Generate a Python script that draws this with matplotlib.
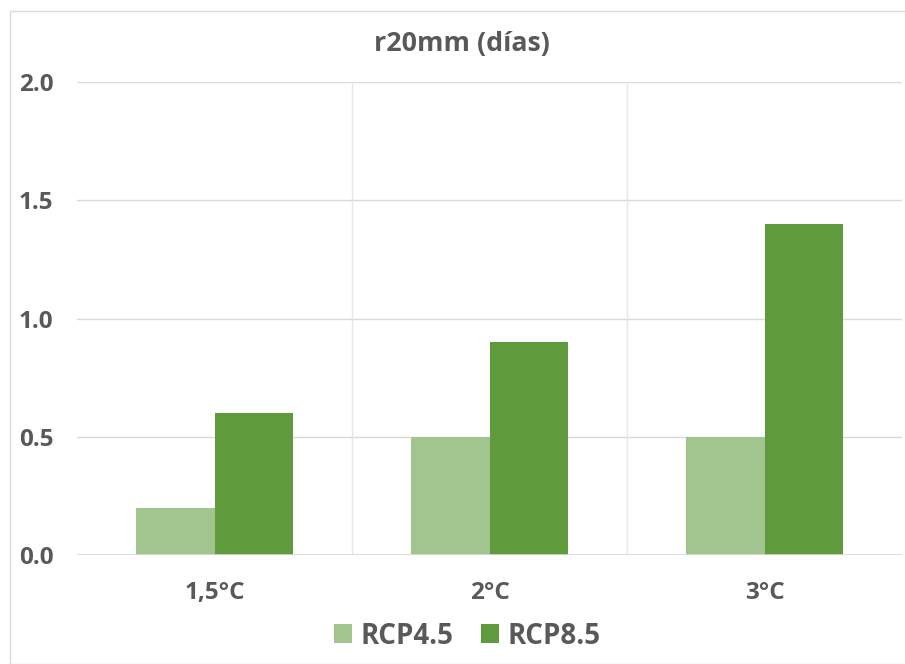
import matplotlib
matplotlib.use("Agg")
import matplotlib.pyplot as plt
import numpy as np
from matplotlib.patches import Rectangle

categories = ["1,5°C", "2°C", "3°C"]
rcp45 = [0.2, 0.5, 0.5]
rcp85 = [0.6, 0.9, 1.4]
series_labels = ["RCP4.5", "RCP8.5"]
yticks = [0.0, 0.5, 1.0, 1.5, 2.0]
title = "r20mm (días)"

plt.rcParams['font.family'] = ['Open Sans', 'DejaVu Sans']
txt = '#595959'

fig = plt.figure(figsize=(9.05, 6.64), dpi=100)
ax = fig.add_axes([77/905, 1-555/664, (902-77)/905, (555-82)/664])

x = np.arange(len(categories))
w = 0.284
b1 = ax.bar(x - w/2, rcp45, w, color='#a2c48e', label=series_labels[0], zorder=3)
b2 = ax.bar(x + w/2, rcp85, w, color='#5f9a3d', label=series_labels[1], zorder=3)

ax.set_xlim(-0.5, len(categories) - 0.5)
ax.set_ylim(0, 2.0)
ax.set_yticks(yticks)
ax.set_yticklabels([f"{v:.1f}" for v in yticks], fontsize=17.5, fontweight='bold', color=txt)
ax.set_xticks(x)
ax.set_xticklabels(categories, fontsize=17.5, fontweight='bold', color=txt)
ax.tick_params(axis='both', length=0)
ax.tick_params(axis='y', pad=17)
ax.tick_params(axis='x', pad=19)
for yv in yticks:
    ax.axhline(yv, color='#d9d9d9', lw=1, zorder=1)
for xv in np.arange(0.5, len(categories) - 0.5, 1):
    ax.axvline(xv, color='#e6e6e6', lw=1, zorder=1)
for s in ax.spines.values():
    s.set_visible(False)
ax.axhline(0, color='#d9d9d9', lw=1.2, zorder=4)

fig.text(462/905, 1-44/664, title, ha='center', va='center', fontsize=19.3, fontweight='bold', color=txt)

leg = fig.legend(handles=[b1, b2], labels=series_labels, loc='center', bbox_to_anchor=(467/905, 1-636/664),
                 ncol=2, frameon=False, fontsize=20, handlelength=0.65, handleheight=0.65,
                 handletextpad=0.3, columnspacing=1.0, borderpad=0)
for t in leg.get_texts():
    t.set_fontweight('bold')
    t.set_color(txt)

fig.patches.append(Rectangle((10/905, 0), 1, 1 - 11/664, transform=fig.transFigure,
                             fill=False, edgecolor='#d9d9d9', lw=1))

fig.savefig("out.png", dpi=100)
